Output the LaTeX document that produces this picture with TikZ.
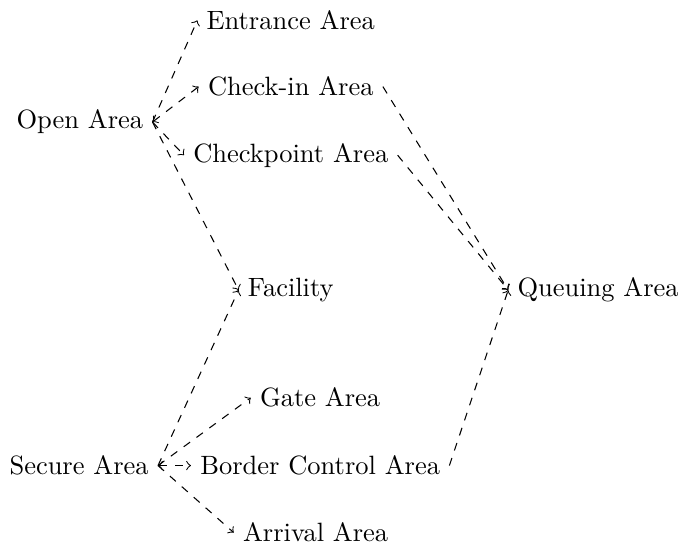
\documentclass[tikz,border=0pt]{standalone}
\usepackage{tikz}
\usepackage{xcolor}

\tikzset{link/.style={->,dashed}}

\begin{document}
\begin{tikzpicture}
  \useasboundingbox (0,0) rectangle (9.0,-7.27);
  \path (1.06,-1.62)
    node (open) {Open Area} ++(2.80,1.35)
    node (ent) {Entrance Area} ++(0,-.88)
    node (chk) {Check-in Area} ++(0,-.91)
    node (cpt) {Checkpoint Area} ++(0,-1.79)
    node (fac) {Facility} ++(4.08,0)
    node (que) {Queuing Area}
    ;
  \path (1.05,-6.18)
    node (sec) {Secure Area} ++(3.20,0)
    node (bca) {Border Control Area} ++(0,.90)
    node (gate) {Gate Area} ++(-.06,-1.79)
    node (arr) {Arrival Area}
    ;
  \draw[link] (open.east) -- (ent.west);
  \draw[link,<->] (open.east) -- (chk.west);
  \draw[link] (open.east) -- (cpt.west);
  \draw[link] (open.east) -- (fac.west);
  \draw[link] (chk.east) -- (que.west);
  \draw[link] (cpt.east) -- (que.west);

  \draw[link] (sec.east) -- (fac.west);
  \draw[link] (sec.east) -- (gate.west);
  \draw[link,<->] (sec.east) -- (bca.west);
  \draw[link] (sec.east) -- (arr.west);
  \draw[link] (bca.east) -- (que.west);
\end{tikzpicture}
\end{document}
